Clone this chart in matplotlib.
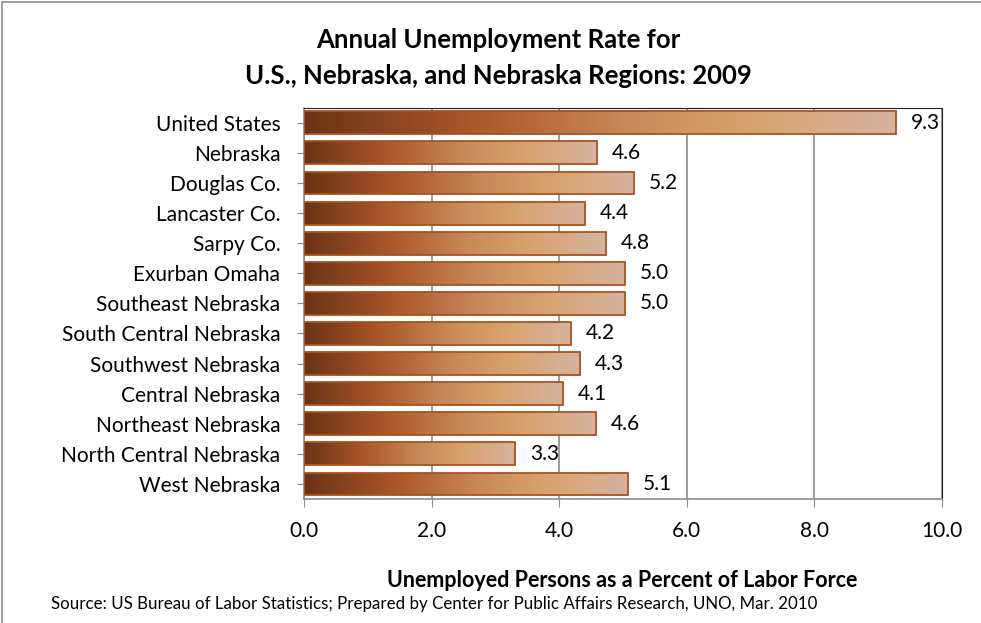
import numpy as np
import matplotlib.pyplot as plt
import matplotlib as mpl
from matplotlib.colors import LinearSegmentedColormap
from matplotlib.patches import Rectangle

mpl.rc('font', family=['Lato', 'DejaVu Sans'], size=15)

regions = ['United States', 'Nebraska', 'Douglas Co.', 'Lancaster Co.', 'Sarpy Co.',
           'Exurban Omaha', 'Southeast Nebraska', 'South Central Nebraska',
           'Southwest Nebraska', 'Central Nebraska', 'Northeast Nebraska',
           'North Central Nebraska', 'West Nebraska']
rates = [9.28, 4.59, 5.17, 4.40, 4.73, 5.03, 5.03, 4.18, 4.33, 4.06, 4.58, 3.31, 5.08]
rate_labels = ['9.3', '4.6', '5.2', '4.4', '4.8', '5.0', '5.0', '4.2', '4.3', '4.1', '4.6', '3.3', '5.1']
xticks = [0, 2, 4, 6, 8, 10]

grad = LinearSegmentedColormap.from_list('copper_grad', [
    (0.0, '#6a3317'), (0.28, '#a9562a'), (0.55, '#c98a5a'),
    (0.75, '#d8a26e'), (1.0, '#d6b4a0')])

fig = plt.figure(figsize=(9.81, 6.23), dpi=100)
ax = fig.add_axes([0.31, 0.199, 0.650, 0.628])

ypos = np.arange(len(regions))
bars = ax.barh(ypos, rates, height=0.76, color='none', edgecolor='#a8541f', linewidth=1.3, zorder=3)
g = np.linspace(0, 1, 256).reshape(1, -1)
for b in bars:
    x0, y0, w, h = b.get_x(), b.get_y(), b.get_width(), b.get_height()
    im = ax.imshow(g, cmap=grad, aspect='auto', extent=[x0, x0 + w, y0 + h, y0], zorder=2)
    im.set_clip_path(b)

for y, v, t in zip(ypos, rates, rate_labels):
    ax.text(v + 0.23, y, t, va='center', ha='left', fontsize=15)

ax.set_xlim(0, 10)
ax.set_ylim(12.5, -0.5)
ax.set_xticks(xticks)
ax.set_xticklabels(['%.1f' % x for x in xticks])
ax.set_yticks(ypos)
ax.set_yticklabels(regions)
ax.xaxis.grid(True, color='#8c8c8c', linewidth=1.2, zorder=0)
ax.set_axisbelow(True)
ax.tick_params(axis='x', direction='out', length=6, color='#8c8c8c', pad=10)
ax.tick_params(axis='y', direction='out', length=5, color='#8c8c8c', pad=12)
ax.spines['left'].set_color('#8c8c8c')
ax.spines['bottom'].set_color('#8c8c8c')
ax.spines['left'].set_linewidth(1.2)
ax.spines['bottom'].set_linewidth(1.2)
ax.spines['top'].set_color('#222222')
ax.spines['right'].set_color('#222222')

fig.text(0.508, 0.935, 'Annual Unemployment Rate for', ha='center', va='center',
         fontsize=18.5, fontweight='bold')
fig.text(0.508, 0.878, 'U.S., Nebraska, and Nebraska Regions: 2009', ha='center', va='center',
         fontsize=18.5, fontweight='bold')
fig.text(0.634, 0.069, 'Unemployed Persons as a Percent of Labor Force', ha='center', va='center',
         fontsize=15.5, fontweight='bold')
fig.text(0.052, 0.03, 'Source: US Bureau of Labor Statistics; Prepared by Center for Public Affairs Research, UNO, Mar. 2010',
         ha='left', va='center', fontsize=12.2)

fig.patches.append(Rectangle((0.002, -0.1), 1.2, 1.097, transform=fig.transFigure,
                             fill=False, edgecolor='#8c8c8c', linewidth=1.2))

fig.savefig('out.png', dpi=100)
